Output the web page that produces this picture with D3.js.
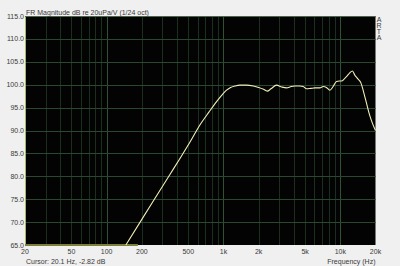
<!DOCTYPE html>
<meta charset="utf-8">
<style>
  body { margin: 0; background: #f0f0f0; }
  text { font-family: "Liberation Sans", Arial, sans-serif; font-size: 7px; fill: #3a3a3a; }
</style>
<body>
<svg width="400" height="266"></svg>
<script src="https://cdn.jsdelivr.net/npm/d3@7"></script>
<script>
// response curve
const freqs = [146, 200, 276, 350, 424, 520, 628, 750, 873, 960, 1062, 1150, 1250, 1380, 1575, 1800,
  2000, 2200, 2366, 2550, 2845, 3150, 3466, 3800, 4083, 4500, 4808, 5140, 5600, 6050, 6680, 7130,
  7600, 8130, 8680, 9270, 9800, 10230, 10920, 11500, 12050, 12700, 13300, 13800, 14200, 15000,
  15600, 16200, 17000, 17800, 18800, 20000];
const levels = [65, 70.6, 76.3, 80.5, 83.9, 87.6, 91.2, 94.0, 96.3, 97.6, 98.8, 99.4, 99.7, 99.9, 99.9, 99.7,
  99.4, 99.0, 98.6, 99.1, 99.9, 99.5, 99.3, 99.6, 99.7, 99.7, 99.6, 99.1, 99.2, 99.3, 99.3, 99.6,
  99.4, 98.8, 99.6, 100.7, 100.8, 100.8, 101.4, 102.0, 102.6, 103.0, 102.1, 101.6, 101.2, 100.4,
  99.0, 97.4, 95.3, 93.4, 91.6, 90.0];
// clipped part along the bottom
const floorFreqs = [20, 185];
const floorLevels = [65, 65];

const yTicks = [65, 70, 75, 80, 85, 90, 95, 100, 105, 110, 115];
const xTicks = [20, 50, 100, 200, 500, 1000, 2000, 5000, 10000, 20000];
const xTickLabels = ["20", "50", "100", "200", "500", "1k", "2k", "5k", "10k", "20k"];

const svg = d3.select("svg");
const pL = 25, pR = 375.5, pT = 16, pB = 245;

const x = d3.scaleLog().domain([20, 20000]).range([pL, pR]);
const y = d3.scaleLinear().domain([65, 115]).range([pB, pT]);

svg.append("rect")
  .attr("x", pL).attr("y", pT)
  .attr("width", pR - pL).attr("height", pB - pT)
  .attr("fill", "#020302");

// grid lines
const gridFreqs = [];
for (let dec = 10; dec <= 10000; dec *= 10)
  for (let m = 1; m <= 9; m++) {
    const f = dec * m;
    if (f > 20 && f < 20000) gridFreqs.push(f);
  }

svg.append("g").selectAll("line")
  .data(gridFreqs)
  .enter().append("line")
  .attr("x1", d => Math.round(x(d)) + 0.5).attr("x2", d => Math.round(x(d)) + 0.5)
  .attr("y1", pT).attr("y2", pB)
  .attr("stroke", d => [100, 1000, 10000].includes(d) ? "#2f5236" : "#1a2f1e")
  .attr("stroke-width", 1);

svg.append("g").selectAll("line")
  .data(yTicks.slice(1, -1))
  .enter().append("line")
  .attr("x1", pL).attr("x2", pR)
  .attr("y1", d => Math.round(y(d)) + 0.5).attr("y2", d => Math.round(y(d)) + 0.5)
  .attr("stroke", "#2a4830").attr("stroke-width", 1);

// axes
svg.append("line")
  .attr("x1", pL + 0.5).attr("x2", pL + 0.5).attr("y1", pT).attr("y2", pB)
  .attr("stroke", "#a3b86a");
svg.append("line")
  .attr("x1", pL).attr("x2", pR).attr("y1", pT + 0.5).attr("y2", pT + 0.5)
  .attr("stroke", "#4a6648");

svg.append("g").selectAll("text")
  .data(yTicks)
  .enter().append("text")
  .attr("x", pL - 1).attr("y", d => y(d) + 2.5)
  .attr("text-anchor", "end")
  .text(d => d.toFixed(1));

svg.append("g").selectAll("text")
  .data(xTicks)
  .enter().append("text")
  .attr("x", d => x(d)).attr("y", pB + 8.5)
  .attr("text-anchor", "middle")
  .text((d, i) => xTickLabels[i]);

// curves
const line = d3.line()
  .x(d => x(d[0]))
  .y(d => y(d[1]))
  .curve(d3.curveMonotoneX);

svg.append("path")
  .datum(floorFreqs.map((f, i) => [f, floorLevels[i]]))
  .attr("d", line)
  .attr("fill", "none")
  .attr("stroke", "#7c7f3a")
  .attr("stroke-width", 2);

svg.append("path")
  .datum(freqs.map((f, i) => [f, levels[i]]))
  .attr("d", line)
  .attr("fill", "none")
  .attr("stroke", "#f2eeb6")
  .attr("stroke-width", 1.1);

// text
svg.append("text").attr("x", pL + 1).attr("y", 14.5)
  .text("FR Magnitude dB re 20uPa/V (1/24 oct)");
svg.append("text").attr("x", pL + 1).attr("y", 263.5)
  .text("Cursor: 20.1 Hz, -2.82 dB");
svg.append("text").attr("x", pR).attr("y", 263.5)
  .attr("text-anchor", "end")
  .text("Frequency (Hz)");

svg.append("g").selectAll("text")
  .data("ARTA".split(""))
  .enter().append("text")
  .attr("x", 379).attr("y", (d, i) => 21.5 + i * 6.3)
  .attr("text-anchor", "middle")
  .text(d => d);
</script>
</body>
